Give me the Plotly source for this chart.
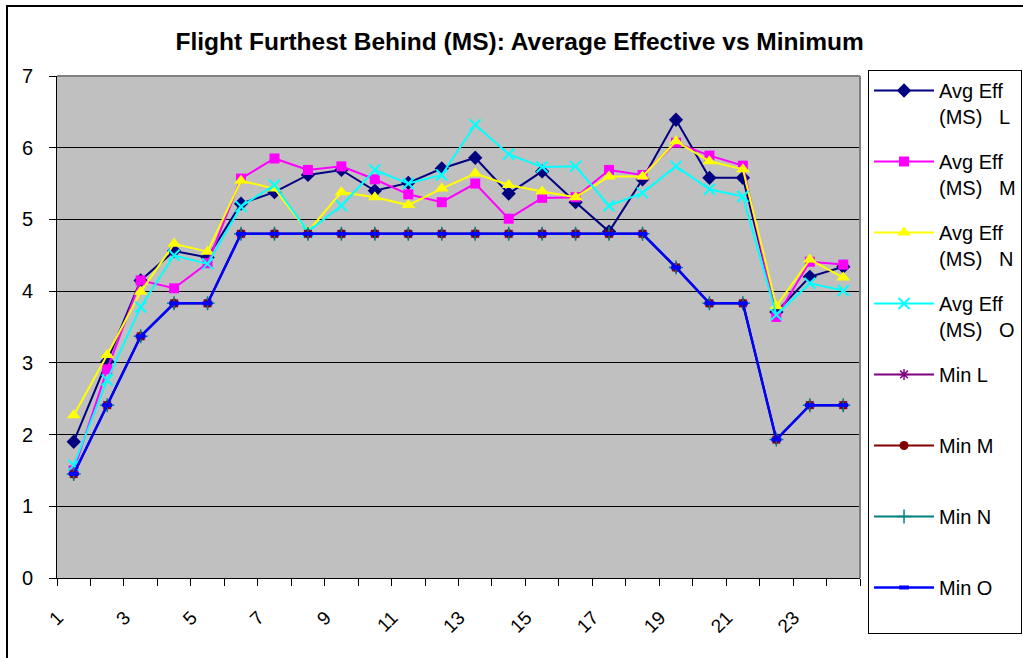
import plotly.graph_objects as go

categories = list(range(1, 25))
tick_labels = [str(c) for c in categories if c % 2 == 1]
tick_values = [c for c in categories if c % 2 == 1]

avg_L = [1.90, 3.02, 4.15, 4.56, 4.47, 5.22, 5.38, 5.62, 5.69, 5.40, 5.51, 5.71,
         5.86, 5.36, 5.67, 5.24, 4.83, 5.56, 6.39, 5.58, 5.58, 3.71, 4.20, 4.34]
avg_M = [1.50, 2.91, 4.15, 4.04, 4.39, 5.57, 5.85, 5.69, 5.74, 5.56, 5.35, 5.24,
         5.50, 5.01, 5.30, 5.31, 5.69, 5.62, 6.07, 5.89, 5.75, 3.64, 4.41, 4.37]
avg_N = [2.27, 3.11, 3.99, 4.66, 4.55, 5.54, 5.43, 4.83, 5.38, 5.31, 5.20, 5.43,
         5.64, 5.48, 5.39, 5.31, 5.60, 5.60, 6.09, 5.81, 5.70, 3.79, 4.44, 4.19]
avg_O = [1.57, 2.76, 3.78, 4.50, 4.38, 5.18, 5.48, 4.83, 5.19, 5.69, 5.50, 5.62,
         6.32, 5.91, 5.73, 5.74, 5.19, 5.37, 5.74, 5.42, 5.32, 3.67, 4.11, 4.01]
min_vals = [1.45, 2.41, 3.37, 3.83, 3.83, 4.80, 4.80, 4.80, 4.80, 4.80, 4.80, 4.80,
            4.80, 4.80, 4.80, 4.80, 4.80, 4.80, 4.33, 3.83, 3.83, 1.93, 2.41, 2.41]
min_L = min_vals
min_M = min_vals
min_N = min_vals
min_O = min_vals

series = [
    ("Avg Eff<br>(MS)   L", avg_L, "#000080", dict(symbol="diamond", size=11, color="#000080"), 2),
    ("Avg Eff<br>(MS)   M", avg_M, "#FF00FF", dict(symbol="square", size=10, color="#FF00FF"), 2),
    ("Avg Eff<br>(MS)   N", avg_N, "#FFFF00", dict(symbol="triangle-up", size=12, color="#FFFF00"), 2),
    ("Avg Eff<br>(MS)   O", avg_O, "#00FFFF", dict(symbol="x-thin-open", size=11, line=dict(color="#00FFFF", width=2)), 2),
    ("Min L<br> ", min_L, "#800080", dict(symbol="asterisk-open", size=9, line=dict(color="#800080", width=1.5)), 2),
    ("Min M<br> ", min_M, "#800000", dict(symbol="circle", size=9, color="#800000"), 2),
    ("Min N<br> ", min_N, "#008080", dict(symbol="cross-thin-open", size=10, line=dict(color="#008080", width=1.5)), 2),
    ("Min O<br> ", min_O, "#0000FF", dict(symbol="line-ew-open", size=7, line=dict(color="#0000FF", width=4)), 2.5),
]

fig = go.Figure()
for i, (name, vals, color, marker, lw) in enumerate(series):
    fig.add_trace(go.Scatter(
        x=categories, y=vals, name=name, mode="lines+markers",
        line=dict(color=color, width=lw), marker=marker,
        legendgroup=f"g{i}",
    ))

fig.update_layout(
    width=1023, height=658,
    paper_bgcolor="white", plot_bgcolor="#C0C0C0",
    margin=dict(l=57, r=163, t=76, b=80, autoexpand=False),
    font=dict(family="Liberation Sans, Arial, sans-serif", size=19, color="black"),
    title=dict(text="<b>Flight Furthest Behind (MS): Average Effective vs Minimum</b>",
               x=0.508, xref="container", y=1 - 41 / 658, yref="container",
               xanchor="center", yanchor="middle",
               font=dict(size=24.5, family="Liberation Sans, Arial, sans-serif")),
    showlegend=True,
    legend=dict(x=1.01, y=1.012, xanchor="left", yanchor="top",
                bordercolor="black", borderwidth=1, bgcolor="white",
                font=dict(size=20), valign="top", tracegroupgap=16,
                itemwidth=60, maxheight=640),
    xaxis=dict(range=[0.5, 24.5], tickmode="array", tickvals=tick_values, ticktext=tick_labels,
               ticks="", tickangle=-45, showgrid=False, zeroline=False,
               showline=True, linecolor="black", linewidth=1, automargin=False,
               tickfont=dict(size=19), ticklabelstandoff=20, ticklabelshift=-16,
               minor=dict(tick0=0.5, dtick=1, ticks="outside", ticklen=7,
                          tickcolor="black", tickwidth=1, showgrid=False)),
    yaxis=dict(range=[0, 7], dtick=1, tick0=0, ticks="outside", ticklen=7,
               tickcolor="black", showgrid=True, gridcolor="black", gridwidth=1,
               zeroline=False, showline=True, linecolor="black", linewidth=1, automargin=False,
               tickfont=dict(size=20), ticklabelstandoff=12),
    shapes=[
        dict(type="line", xref="paper", yref="paper", x0=0, x1=1, y0=1, y1=1,
             line=dict(color="#808080", width=2), layer="above"),
        dict(type="line", xref="paper", yref="paper", x0=1, x1=1, y0=0, y1=1,
             line=dict(color="#808080", width=2), layer="above"),
        dict(type="rect", xref="paper", yref="paper",
             x0=(7 - 57) / 803, x1=1.25, y0=-0.2, y1=(578 - 6) / 502,
             line=dict(color="black", width=2), fillcolor="rgba(0,0,0,0)", layer="below"),
    ],
)

fig.write_html("out.html", config={"displayModeBar": False},
               post_script="document.body.style.margin='0';")
